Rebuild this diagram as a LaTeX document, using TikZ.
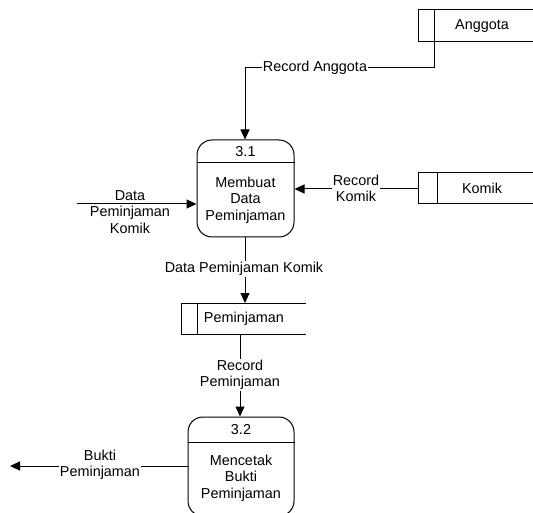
\documentclass[tikz,border=0pt]{standalone}
\usepackage{fontspec}
\setmainfont{Liberation Sans}
\usetikzlibrary{arrows.meta}
\begin{document}
\begin{tikzpicture}[x=1pt,y=-1pt,
  every node/.style={font=\fontsize{14.4}{16.5}\selectfont, inner sep=0pt, align=center},
  line/.style={line width=1pt, draw=black},
  flow/.style={line, -{Triangle[length=10pt,width=9pt]}},
  proc/.style={draw, line width=1pt, rounded corners=15pt},
  lbl/.style={fill=white, inner sep=1pt}
]
\useasboundingbox (0,0) rectangle (533,513);

% Process 3.1
\node[proc, minimum width=97pt, minimum height=97pt] (p1) at (245.5,188.5) {};
\draw[line] (p1.west |- 0,163) -- (p1.east |- 0,163);
\node (p1id) at (245.5,152) {3.1};
\node (p1txt) at (245.5,200) {Membuat\\Data\\Peminjaman};

% Process 3.2
\node[proc, minimum width=106pt, minimum height=99pt] (p2) at (241,466.5) {};
\draw[line] (p2.west |- 0,442) -- (p2.east |- 0,442);
\node (p2id) at (241,430) {3.2};
\node (p2txt) at (241,478) {Mencetak\\Bukti\\Peminjaman};

% Data store Anggota
\draw[line] (533,10) -- (418,10) -- (418,42) -- (533,42);
\draw[line] (434,10) -- (434,42);
\node (anggota) at (482,26) {Anggota};
\coordinate (sa) at (434,42);

% Data store Komik
\draw[line] (533,173) -- (418,173) -- (418,204) -- (533,204);
\draw[line] (437,173) -- (437,204);
\node (komik) at (482,188.5) {Komik};
\coordinate (sk) at (418,189);

% Data store Peminjaman
\draw[line] (306,303) -- (181,303) -- (181,334) -- (306,334);
\draw[line] (197,303) -- (197,334);
\node (pinjam) at (244,319) {Peminjaman};
\coordinate (spt) at (245,303);
\coordinate (spb) at (240,334);

% Flows
\draw[flow] (sa) -- (434,68) -- (245,68) -- (p1.north -| 245,0);
\node[lbl] (la) at (315,68) {Record Anggota};

\draw[flow] (sk) -- (sk -| p1.east);
\node[lbl] (lk) at (356,188.5) {Record\\Komik};

\coordinate (din) at (77,204);
\draw[flow] (din) -- (din -| p1.west);
\node (ld) at (130,212) {Data\\Peminjaman\\Komik};

\draw[flow] (p1.south -| 245,0) -- (spt);
\node[lbl] (ldp) at (244,269) {Data Peminjaman Komik};

\draw[flow] (spb) -- (p2.north -| 240,0);
\node[lbl] (lrp) at (240,375) {Record\\Peminjaman};

\coordinate (bout) at (10,466);
\draw[flow] (p2.west |- bout) -- (bout);
\node[lbl] (lb) at (100,465) {Bukti\\Peminjaman};
\end{tikzpicture}
\end{document}
